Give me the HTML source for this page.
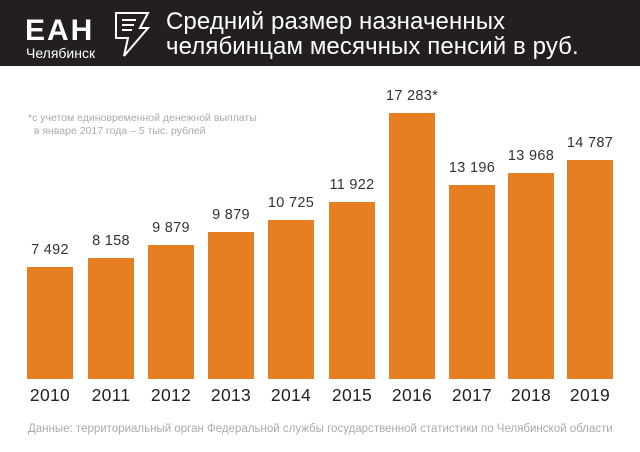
<!DOCTYPE html>
<html><head><meta charset="utf-8"><style>
body{margin:0;width:640px;height:452px;background:#fff;overflow:hidden;position:relative;font-family:"Liberation Sans","DejaVu Sans",sans-serif}
.hd{position:absolute;left:0;top:0;width:640px;height:66px;background:#231f20}
.t{position:absolute;color:#fff}
.bar{position:absolute;background:#e67e22;width:46px;bottom:73px}
.v{position:absolute;width:80px;text-align:center;font-size:14.5px;color:#333;letter-spacing:0.3px}
.y{position:absolute;width:80px;text-align:center;font-size:17.5px;color:#222;top:385px;letter-spacing:0.3px}
</style></head><body>
<div class="hd"></div>
<div class="t" style="left:25px;top:16px;font-size:30px;font-weight:bold;letter-spacing:2px;line-height:30px">ЕАН</div>
<div class="t" style="left:26px;top:45px;font-size:14px">Челябинск</div>
<svg style="position:absolute;left:112px;top:10px" width="40" height="48"><path d="M4 3 L36 3 L28 18 L36 18 L12 46 L16 28 L4 28 Z" fill="none" stroke="#fff" stroke-width="2"/><path d="M10 10 H24 M10 15 H22 M10 20 H20" stroke="#fff" stroke-width="2"/></svg>
<div class="t" style="left:166px;top:9px;font-size:24px;line-height:25px;letter-spacing:0.1px">Средний размер назначенных<br>челябинцам месячных пенсий в руб.</div>
<div style="position:absolute;left:28px;top:112px;font-size:10.5px;color:#aaa;line-height:13px">*с учетом единовременной денежной выплаты<br>&nbsp;&nbsp;в январе 2017 года – 5 тыс. рублей</div>
<div class="bar" style="left:27px;top:267px"></div><div class="v" style="left:10px;top:242px">7 492</div><div class="y" style="left:10px">2010</div>
<div class="bar" style="left:88px;top:258px"></div><div class="v" style="left:71px;top:233px">8 158</div><div class="y" style="left:71px">2011</div>
<div class="bar" style="left:148px;top:245px"></div><div class="v" style="left:131px;top:220px">9 879</div><div class="y" style="left:131px">2012</div>
<div class="bar" style="left:208px;top:232px"></div><div class="v" style="left:191px;top:207px">9 879</div><div class="y" style="left:191px">2013</div>
<div class="bar" style="left:268px;top:220px"></div><div class="v" style="left:251px;top:195px">10 725</div><div class="y" style="left:251px">2014</div>
<div class="bar" style="left:329px;top:202px"></div><div class="v" style="left:312px;top:177px">11 922</div><div class="y" style="left:312px">2015</div>
<div class="bar" style="left:389px;top:113px"></div><div class="v" style="left:372px;top:88px">17 283*</div><div class="y" style="left:372px">2016</div>
<div class="bar" style="left:449px;top:185px"></div><div class="v" style="left:432px;top:160px">13 196</div><div class="y" style="left:432px">2017</div>
<div class="bar" style="left:508px;top:173px"></div><div class="v" style="left:491px;top:148px">13 968</div><div class="y" style="left:491px">2018</div>
<div class="bar" style="left:567px;top:160px"></div><div class="v" style="left:550px;top:135px">14 787</div><div class="y" style="left:550px">2019</div>
<div style="position:absolute;left:28px;top:423px;font-size:11.5px;color:#aaa;white-space:nowrap">Данные: территориальный орган Федеральной службы государственной статистики по Челябинской области</div>
</body></html>
